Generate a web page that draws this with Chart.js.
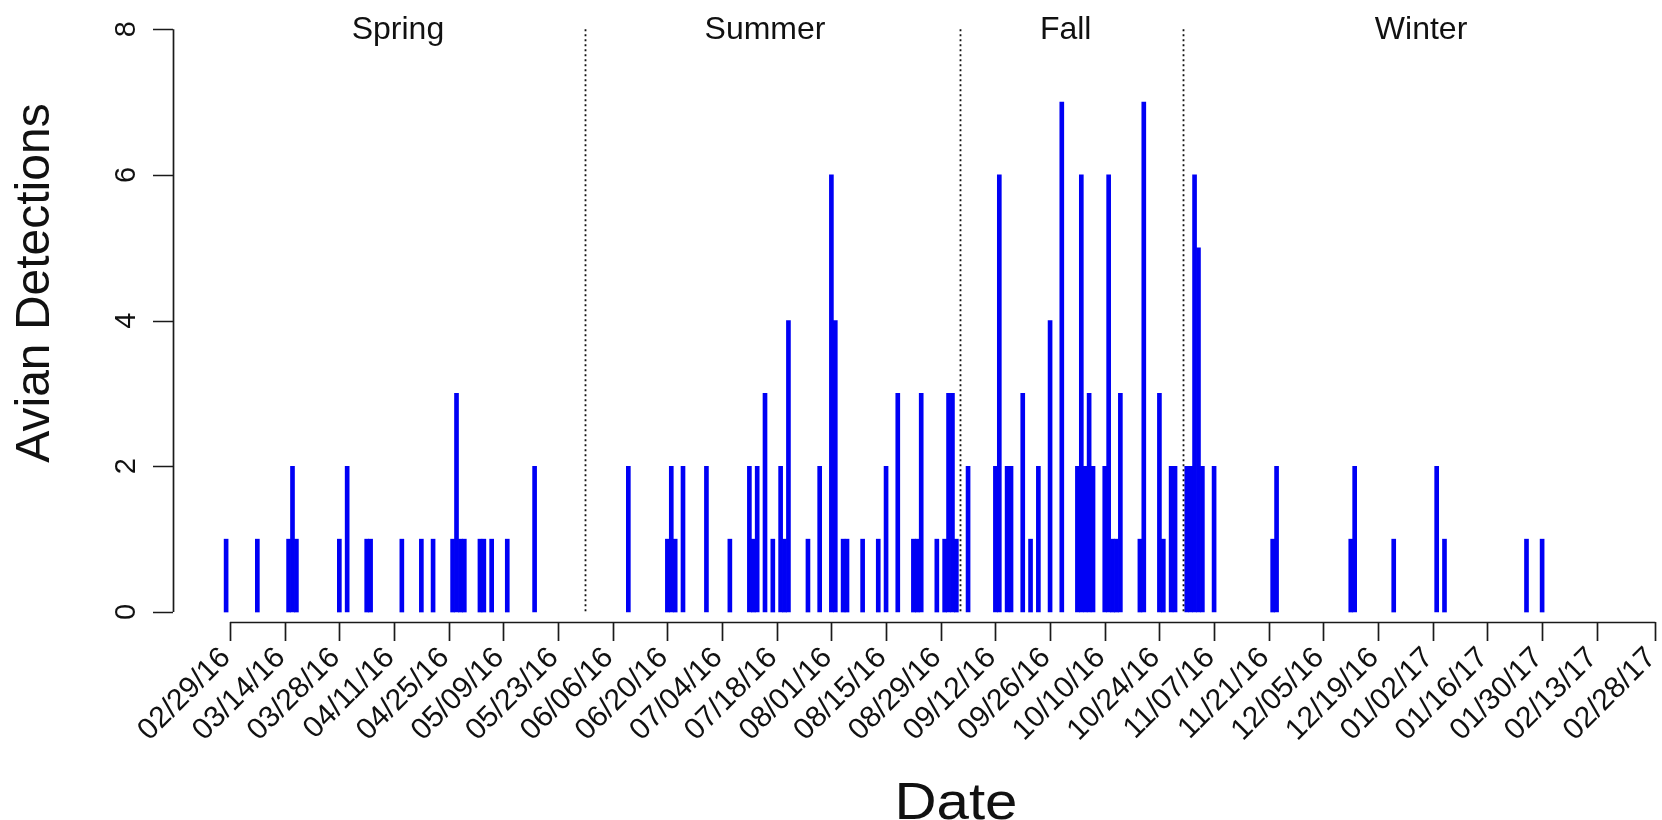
<!DOCTYPE html>
<html lang="en">
<head>
    <meta charset="UTF-8">
    <title>Avian Detections</title>
    <script src="https://cdn.jsdelivr.net/npm/chart.js"></script>
    <style>
        html, body { margin: 0; padding: 0; background: #fff; }
        canvas { display: block; }
    </style>
</head>
<body>
    <canvas id="detectionChart" width="1662" height="820"></canvas>

    <script>
        // days counted from 02/29/16
        const detectionDays = [
            -1, 7, 15, 16, 17, 28, 30, 35, 36, 44, 49, 52, 57, 58, 59, 60, 64, 65, 67, 71, 78,
            102, 112, 113, 114, 116, 122, 128, 133, 134, 135, 137, 139, 141, 142, 143, 148, 151,
            154, 155, 157, 158, 162, 166, 168, 171, 175, 176, 177, 181, 183, 184, 185, 186,
            189, 196, 197, 199, 200, 203, 205, 207, 210, 213, 217, 218, 219, 220, 221,
            224, 225, 226, 227, 228, 233, 234, 238, 239, 241, 242, 245, 246, 247, 248, 249,
            252, 267, 268, 287, 288, 298, 309, 311, 332, 336
        ];
        const detectionCounts = [
            1, 1, 1, 2, 1, 1, 2, 1, 1, 1, 1, 1, 1, 3, 1, 1, 1, 1, 1, 1, 2,
            2, 1, 2, 1, 2, 2, 1, 2, 1, 2, 3, 1, 2, 1, 4, 1, 2,
            6, 4, 1, 1, 1, 1, 2, 3, 1, 1, 3, 1, 1, 3, 3, 1,
            2, 2, 6, 2, 2, 3, 1, 2, 4, 7, 2, 6, 2, 3, 2,
            2, 6, 1, 1, 3, 1, 7, 3, 1, 2, 2, 2, 2, 6, 5, 2,
            2, 1, 2, 1, 2, 1, 2, 1, 1, 1
        ];

        const tickDays = [0, 14, 28, 42, 56, 70, 84, 98, 112, 126, 140, 154, 168, 182, 196,
            210, 224, 238, 252, 266, 280, 294, 308, 322, 336, 350, 365];
        const tickLabels = ['02/29/16', '03/14/16', '03/28/16', '04/11/16', '04/25/16', '05/09/16',
            '05/23/16', '06/06/16', '06/20/16', '07/04/16', '07/18/16', '08/01/16', '08/15/16',
            '08/29/16', '09/12/16', '09/26/16', '10/10/16', '10/24/16', '11/07/16', '11/21/16',
            '12/05/16', '12/19/16', '01/02/17', '01/16/17', '01/30/17', '02/13/17', '02/28/17'];
        const yTicks = [0, 2, 4, 6, 8];

        const seasonNames = ['Spring', 'Summer', 'Fall', 'Winter'];
        const seasonLabelDays = [43, 137, 214, 305];
        const seasonBreakDays = [91, 187, 244];

        const FONT = '"Liberation Sans", Arial, Helvetica, sans-serif';

        // base-graphics style axes, season dividers and titles
        const plotDecorations = {
            id: 'plotDecorations',
            afterDatasetsDraw(chart) {
                const ctx = chart.ctx;
                const x = chart.scales.x;
                const y = chart.scales.y;
                const area = chart.chartArea;
                const axisY = area.bottom;
                const axisX = area.left;

                ctx.save();

                // season dividers
                ctx.strokeStyle = '#111';
                ctx.lineWidth = 1.8;
                ctx.setLineDash([2, 3]);
                seasonBreakDays.forEach(d => {
                    const px = Math.round(x.getPixelForValue(d)) + 0.5;
                    ctx.beginPath();
                    ctx.moveTo(px, y.getPixelForValue(8));
                    ctx.lineTo(px, y.getPixelForValue(0));
                    ctx.stroke();
                });
                ctx.setLineDash([]);

                // season names
                ctx.fillStyle = '#111';
                ctx.font = '32px ' + FONT;
                ctx.textAlign = 'center';
                ctx.textBaseline = 'middle';
                seasonNames.forEach((name, i) => {
                    ctx.fillText(name, x.getPixelForValue(seasonLabelDays[i]), y.getPixelForValue(8) + 1);
                });

                ctx.strokeStyle = '#1a1a1a';
                ctx.lineWidth = 1.7;

                // x axis
                const x0 = x.getPixelForValue(tickDays[0]);
                const x1 = x.getPixelForValue(tickDays[tickDays.length - 1]);
                ctx.beginPath();
                ctx.moveTo(x0, axisY + 0.5);
                ctx.lineTo(x1, axisY + 0.5);
                tickDays.forEach(d => {
                    const px = Math.round(x.getPixelForValue(d)) + 0.5;
                    ctx.moveTo(px, axisY);
                    ctx.lineTo(px, axisY + 19);
                });
                ctx.stroke();

                ctx.font = '30px ' + FONT;
                ctx.textAlign = 'right';
                ctx.textBaseline = 'middle';
                tickDays.forEach((d, i) => {
                    const px = x.getPixelForValue(d);
                    ctx.save();
                    ctx.translate(px - 4, axisY + 31);
                    ctx.rotate(-Math.PI / 4);
                    ctx.fillText(tickLabels[i], 0, 0);
                    ctx.restore();
                });

                // y axis
                ctx.beginPath();
                ctx.moveTo(axisX + 0.5, y.getPixelForValue(0));
                ctx.lineTo(axisX + 0.5, y.getPixelForValue(8));
                yTicks.forEach(v => {
                    const py = Math.round(y.getPixelForValue(v)) + 0.5;
                    ctx.moveTo(axisX, py);
                    ctx.lineTo(axisX - 20, py);
                });
                ctx.stroke();

                ctx.font = '29px ' + FONT;
                ctx.textAlign = 'center';
                ctx.textBaseline = 'middle';
                yTicks.forEach(v => {
                    ctx.save();
                    ctx.translate(axisX - 46, y.getPixelForValue(v));
                    ctx.rotate(-Math.PI / 2);
                    ctx.fillText(String(v), 0, 0);
                    ctx.restore();
                });

                // axis titles
                ctx.font = '48px ' + FONT;
                ctx.save();
                ctx.translate(36, 283);
                ctx.rotate(-Math.PI / 2);
                ctx.fillText('Avian Detections', 0, 0);
                ctx.restore();

                ctx.font = '52px ' + FONT;
                ctx.save();
                ctx.translate(956, 805);
                ctx.scale(1.12, 1);
                ctx.fillText('Date', 0, 0);
                ctx.restore();

                ctx.restore();
            }
        };

        const points = detectionDays.map((d, i) => ({ x: d, y: detectionCounts[i] }));

        const ctx = document.getElementById('detectionChart').getContext('2d');
        const detectionChart = new Chart(ctx, {
            type: 'bar',
            data: {
                datasets: [{
                    label: 'Avian Detections',
                    data: points,
                    backgroundColor: '#0000f5',
                    borderWidth: 0,
                    barThickness: 4
                }]
            },
            options: {
                responsive: false,
                animation: false,
                layout: {
                    padding: { left: 173, right: 0, top: 0, bottom: 198 }
                },
                plugins: {
                    legend: { display: false },
                    tooltip: { enabled: false }
                },
                scales: {
                    x: { type: 'linear', offset: false, min: -14.6, max: 366.7, display: false },
                    y: { min: -0.137, max: 8.4, display: false }
                }
            },
            plugins: [plotDecorations]
        });
    </script>
</body>
</html>
